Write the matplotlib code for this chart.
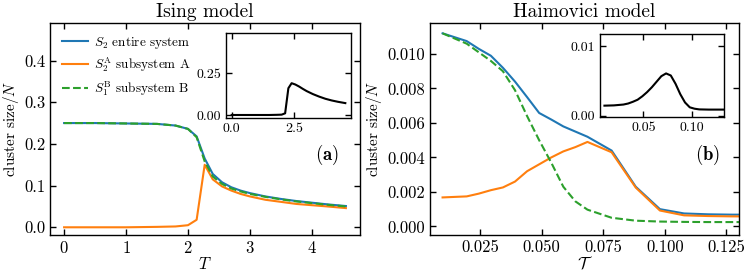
import matplotlib
matplotlib.use("Agg")
import matplotlib.pyplot as plt

plt.rcParams["font.family"] = "serif"
plt.rcParams["font.serif"] = ["cmr10", "DejaVu Serif"]
plt.rcParams["mathtext.fontset"] = "cm"
plt.rcParams["axes.formatter.use_mathtext"] = True
plt.rcParams["axes.unicode_minus"] = False
plt.rcParams["axes.linewidth"] = 1.0

# Ising model (left)
T = [0.0, 0.5, 1.0, 1.5, 1.8, 2.0, 2.14, 2.27, 2.4, 2.55, 2.7, 2.85, 3.0,
     3.25, 3.5, 3.75, 4.0, 4.25, 4.55]
ising_S2 = [0.250, 0.250, 0.249, 0.248, 0.244, 0.236, 0.218, 0.165, 0.128, 0.108,
            0.096, 0.088, 0.082, 0.074, 0.068, 0.063, 0.059, 0.055, 0.051]
ising_S2A = [0.0, 0.0, 0.0, 0.001, 0.002, 0.005, 0.018, 0.150, 0.115, 0.098,
             0.088, 0.080, 0.074, 0.066, 0.061, 0.056, 0.053, 0.050, 0.046]
ising_S1B = [0.250, 0.250, 0.249, 0.248, 0.244, 0.236, 0.216, 0.158, 0.122, 0.104,
             0.093, 0.086, 0.080, 0.073, 0.067, 0.062, 0.058, 0.054, 0.050]
ising_inset = [0.0, 0.0, 0.0, 0.0, 0.001, 0.002, 0.010, 0.160, 0.190, 0.182,
               0.170, 0.156, 0.143, 0.125, 0.110, 0.097, 0.087, 0.079, 0.071]

# Haimovici model (right)
tau = [0.0098, 0.0196, 0.0245, 0.0294, 0.0343, 0.0392, 0.0441, 0.049, 0.0539,
       0.0588, 0.0637, 0.0686, 0.0784, 0.0882, 0.098, 0.1078, 0.1176, 0.1274, 0.1372]
haim_S2 = [0.0112, 0.01075, 0.0103, 0.0099, 0.0092, 0.0084, 0.0075, 0.00658, 0.0062,
           0.0058, 0.0055, 0.0052, 0.0044, 0.0023, 0.0010, 0.00075, 0.0007, 0.00068, 0.00068]
haim_S2A = [0.00168, 0.00174, 0.0019, 0.0021, 0.00226, 0.0026, 0.0032, 0.0036, 0.0040,
            0.00435, 0.0046, 0.0049, 0.0043, 0.00225, 0.00092, 0.00064, 0.0006, 0.00058, 0.00058]
haim_S1B = [0.0112, 0.0106, 0.0101, 0.0096, 0.0090, 0.0079, 0.0064, 0.0050, 0.0037,
            0.0023, 0.00145, 0.00097, 0.0005, 0.00033, 0.00028, 0.00026, 0.00025, 0.00025, 0.00025]
tau_inset = [0.0098, 0.0196, 0.0294, 0.0343, 0.0392, 0.0441, 0.049, 0.0539, 0.0588,
             0.0637, 0.0686, 0.0735, 0.0784, 0.0833, 0.0882, 0.0931, 0.098, 0.1029,
             0.1078, 0.1176, 0.1274, 0.1372]
haim_inset = [0.00144, 0.00148, 0.00160, 0.00175, 0.0020, 0.0023, 0.0028, 0.0034,
              0.0041, 0.0049, 0.0057, 0.0061, 0.0058, 0.0046, 0.0031, 0.0019, 0.0012,
              0.0010, 0.0009, 0.00087, 0.00087, 0.00087]

labels = [r"$S_2$ entire system", r"$S_2^{\rm A}$ subsystem A", r"$S_1^{\rm B}$ subsystem B"]

W, H = 747, 274
fig = plt.figure(figsize=(W / 100, H / 100), dpi=100)


def box(l, t, r, b):
    return [l / W, 1 - b / H, (r - l) / W, (b - t) / H]


def style(ax, size):
    ax.tick_params(direction="in", top=True, right=True, labelsize=size, length=4, width=1.0)


ax1 = fig.add_axes(box(50, 23, 360, 235))
ax1.plot(T, ising_S2, color="tab:blue", lw=1.5, label=labels[0])
ax1.plot(T, ising_S2A, color="tab:orange", lw=1.5, label=labels[1])
ax1.plot(T, ising_S1B, color="tab:green", lw=1.5, ls="--", label=labels[2])
ax1.set_ylim(-0.0185, 0.49)
ax1.set_xticks([0, 1, 2, 3, 4])
ax1.set_yticks([0.0, 0.1, 0.2, 0.3, 0.4])
ax1.set_yticklabels(["0.0", "0.1", "0.2", "0.3", "0.4"])
style(ax1, 12)
ax1.set_xlabel(r"$T$", fontsize=12, labelpad=0)
ax1.set_ylabel(r"cluster size$/N$", fontsize=11, labelpad=2)
ax1.set_title("Ising model", fontsize=14, pad=4)
ax1.legend(loc="upper left", frameon=False, fontsize=9.5, handlelength=2.0,
           borderaxespad=0.5, labelspacing=0.35, handletextpad=0.4)
ax1.text(0.93, 0.38, r"$\mathbf{(a)}$", transform=ax1.transAxes, ha="right",
         va="center", fontsize=13.5)

in1 = fig.add_axes(box(226, 33, 351, 118))
in1.plot(T, ising_inset, color="black", lw=1.5)
in1.set_ylim(-0.018, 0.49)
in1.set_xticks([0, 2.5])
in1.set_xticklabels(["0.0", "2.5"])
in1.set_yticks([0, 0.25])
in1.set_yticklabels(["0.00", "0.25"])
style(in1, 10)

ax2 = fig.add_axes(box(430, 23, 739, 235))
ax2.plot(tau, haim_S2, color="tab:blue", lw=1.5)
ax2.plot(tau, haim_S2A, color="tab:orange", lw=1.5)
ax2.plot(tau, haim_S1B, color="tab:green", lw=1.5, ls="--")
ax2.set_xlim(0.0047, 0.1301)
ax2.set_ylim(-0.0005, 0.0118)
ax2.set_xticks([0.025, 0.05, 0.075, 0.1, 0.125])
ax2.set_xticklabels(["0.025", "0.050", "0.075", "0.100", "0.125"])
ax2.set_yticks([0, 0.002, 0.004, 0.006, 0.008, 0.010])
ax2.set_yticklabels(["0.000", "0.002", "0.004", "0.006", "0.008", "0.010"])
style(ax2, 12)
ax2.set_xlabel(r"$\mathcal{T}$", fontsize=12, labelpad=0)
ax2.set_ylabel(r"cluster size$/N$", fontsize=11, labelpad=2)
ax2.set_title("Haimovici model", fontsize=14, pad=4)
ax2.text(0.94, 0.38, r"$\mathbf{(b)}$", transform=ax2.transAxes, ha="right",
         va="center", fontsize=13.5)

in2 = fig.add_axes(box(600, 34, 724, 117))
in2.plot(tau_inset, haim_inset, color="black", lw=1.5)
in2.set_xlim(0.0052, 0.1334)
in2.set_ylim(-0.0002, 0.0118)
in2.set_xticks([0.05, 0.10])
in2.set_xticklabels(["0.05", "0.10"])
in2.set_yticks([0, 0.01])
in2.set_yticklabels(["0.00", "0.01"])
style(in2, 10)

fig.savefig("out.png", dpi=100)
